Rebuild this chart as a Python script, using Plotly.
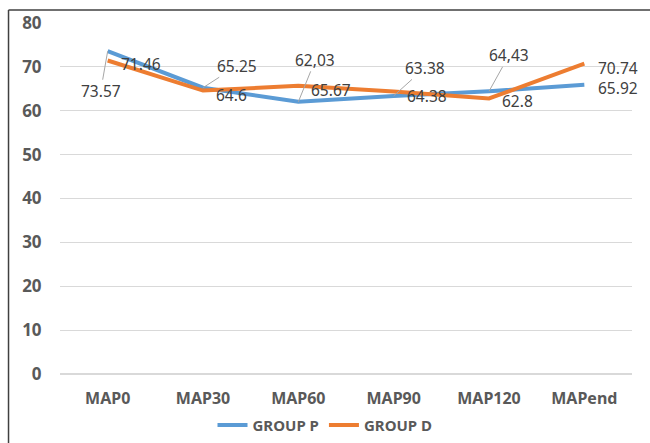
import plotly.graph_objects as go

categories = ["MAP0", "MAP30", "MAP60", "MAP90", "MAP120", "MAPend"]
group_p = [73.57, 65.25, 62.03, 63.38, 64.43, 65.92]
group_d = [71.46, 64.6, 65.67, 64.38, 62.8, 70.74]
label_p = ["73.57", "65.25", "62,03", "63.38", "64,43", "65.92"]
label_d = ["71.46", "64.6", "65.67", "64.38", "62.8", "70.74"]
y_ticks = [0, 10, 20, 30, 40, 50, 60, 70, 80]

BLUE = "#5B9BD5"
ORANGE = "#ED7D31"
TXT = "#404040"
AX = "#595959"
FONT = "Noto Sans"

fig = go.Figure()
fig.add_trace(go.Scatter(x=categories, y=group_p, mode="lines", name="GROUP P",
                         line=dict(color=BLUE, width=4)))
fig.add_trace(go.Scatter(x=categories, y=group_d, mode="lines", name="GROUP D",
                         line=dict(color=ORANGE, width=4)))

# label placement styles (pixel offsets)
p_style = [
    dict(arrow=True, ax=-7, ay=40),
    dict(arrow=True, ax=34, ay=-22),
    dict(arrow=True, ax=17, ay=-42),
    dict(arrow=True, ax=31, ay=-28),
    dict(arrow=True, ax=20, ay=-36),
    dict(arrow=False, xs=34, ys=-3),
]
d_style = [
    dict(xs=33, ys=-4),
    dict(xs=28, ys=-4),
    dict(xs=33, ys=-4),
    dict(xs=33, ys=-4),
    dict(xs=28, ys=-3),
    dict(xs=34, ys=-4),
]

annotations = []
lab_font = dict(family=FONT, size=15.5, color=TXT)
for c, v, t, s in zip(categories, group_p, label_p, p_style):
    if s["arrow"]:
        annotations.append(dict(x=c, y=v, text=t, showarrow=True, arrowhead=0,
                                arrowwidth=1, arrowcolor="#A6A6A6",
                                ax=s["ax"], ay=s["ay"], font=lab_font,
                                borderpad=0))
    else:
        annotations.append(dict(x=c, y=v, text=t, showarrow=False,
                                xshift=s["xs"], yshift=s["ys"], font=lab_font))
for c, v, t, s in zip(categories, group_d, label_d, d_style):
    annotations.append(dict(x=c, y=v, text=t, showarrow=False,
                            xshift=s["xs"], yshift=s["ys"], font=lab_font))

fig.update_layout(
    width=650, height=443,
    margin=dict(l=60, r=18, t=23, b=69, autoexpand=False),
    paper_bgcolor="white", plot_bgcolor="white",
    showlegend=True,
    legend=dict(orientation="h", x=0.5, xanchor="center", xref="container",
                y=0.04, yanchor="middle", yref="container",
                font=dict(family=FONT, size=15, color=AX, weight="bold"),
                itemwidth=30, tracegroupgap=0),
    xaxis=dict(type="category", showgrid=False, zeroline=False, showline=False,
               automargin=False,
               ticks="outside", ticklen=10, tickcolor="rgba(0,0,0,0)",
               tickfont=dict(family=FONT, size=16, color=AX, weight="bold"),
               range=[-0.5, 5.5]),
    yaxis=dict(range=[0, 80], tickvals=y_ticks, showgrid=True, gridcolor="#D9D9D9",
               automargin=False,
               gridwidth=1, zeroline=True, zerolinecolor="#D9D9D9", showline=False,
               ticks="outside", ticklen=14, tickcolor="rgba(0,0,0,0)",
               tickfont=dict(family=FONT, size=17, color=AX, weight="bold")),
    annotations=annotations,
    shapes=[
        dict(type="line", xref="paper", yref="paper", x0=-0.09, x1=-0.09, y0=1.037, y1=-0.3,
             line=dict(color="#404040", width=1.5)),
        dict(type="line", xref="paper", yref="paper", x0=-0.09, x1=1.04, y0=1.037, y1=1.037,
             line=dict(color="#404040", width=1.5)),
    ],
)

fig.write_html("out.html")
